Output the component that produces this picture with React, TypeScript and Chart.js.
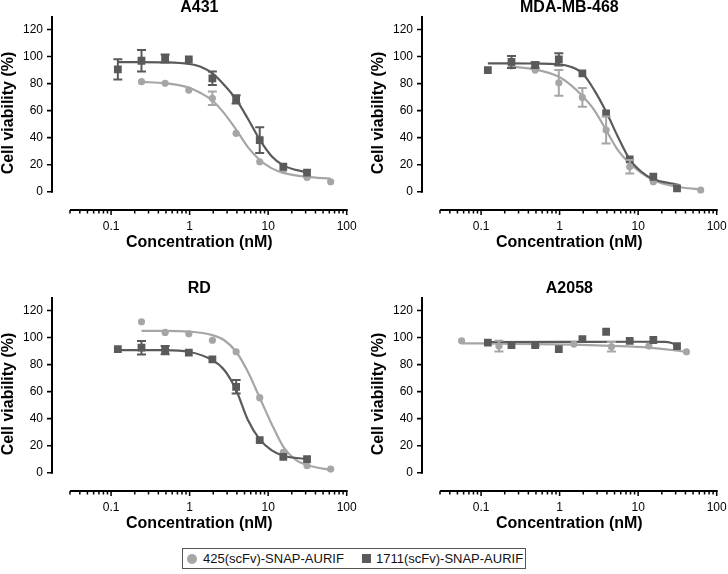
import React, { useEffect, useRef } from 'react';
import { Chart, registerables } from 'chart.js';

Chart.register(...registerables);

const LIGHT = '#a6a6a6';
const DARK = '#5a5a5a';
const FONT = "'Liberation Sans', Arial, Helvetica, sans-serif";

// ---- axis ticks ----
const X_TICKS = [0.1, 1, 10, 100];
const X_MINOR_TICKS = [
  0.03, 0.04, 0.05, 0.06, 0.07, 0.08, 0.09,
  0.2, 0.3, 0.4, 0.5, 0.6, 0.7, 0.8, 0.9,
  2, 3, 4, 5, 6, 7, 8, 9,
  20, 30, 40, 50, 60, 70, 80, 90,
];
const Y_TICKS = [0, 20, 40, 60, 80, 100, 120];
const X_MIN = 0.0177;
const X_MAX = 100;
const X_AXIS_START = 0.03;
const Y_MIN = -13.5;
const Y_MAX = 130;
const Y_AXIS_TOP = 130;

// ---- A431 ----
const a431LightConc = [0.244, 0.488, 0.977, 1.95, 3.91, 7.81, 15.6, 31.25, 62.5];
const a431LightVal = [81.4, 80.2, 75.2, 69.1, 43.2, 22.2, 16, 10.6, 7.4];
const a431LightErr = [0, 0, 0, 5, 0, 0, 0, 0, 0];
const a431DarkConc = [0.122, 0.244, 0.488, 0.977, 1.95, 3.91, 7.81, 15.6, 31.25];
const a431DarkVal = [90.5, 96.9, 98.6, 97.9, 83.9, 68.3, 38.2, 18.5, 14.1];
const a431DarkErr = [7.5, 8, 3, 0, 5, 3, 9.5, 0, 0];
const a431LightFitX = [0.244, 0.488, 0.977, 1.38, 1.95, 2.76, 3.91, 5.52, 7.81, 11.0, 15.6, 31.25, 62.5];
const a431LightFitY = [81.2, 80.3, 77, 73, 67.5, 58, 46, 33, 23.5, 17.5, 14, 11, 9.8];
const a431DarkFitX = [0.122, 0.244, 0.488, 0.977, 1.38, 1.95, 2.76, 3.91, 5.52, 7.81, 11.0, 15.6, 31.25];
const a431DarkFitY = [95.9, 95.9, 95.7, 94.5, 92.5, 87.6, 79, 68.3, 54, 38.5, 26.5, 19.5, 14.1];

// ---- MDA-MB-468 ----
const mdaLightConc = [0.244, 0.488, 0.977, 1.95, 3.91, 7.81, 15.6, 31.25, 62.5];
const mdaLightVal = [93, 90, 80.6, 69.8, 45.6, 18.5, 7.4, 3.7, 1.3];
const mdaLightErr = [0, 0, 9.5, 7, 10, 5, 0, 0, 0];
const mdaDarkConc = [0.122, 0.244, 0.488, 0.977, 1.95, 3.91, 7.81, 15.6, 31.25];
const mdaDarkVal = [90, 96, 93.7, 97.9, 87.6, 58, 24, 11.1, 2.5];
const mdaDarkErr = [0, 4.5, 2, 4.5, 0, 0, 0, 0, 0];
const mdaLightFitX = [0.244, 0.488, 0.977, 1.38, 1.95, 2.76, 3.91, 5.52, 7.81, 15.6, 31.25, 62.5];
const mdaLightFitY = [92.5, 90.5, 85, 79, 70.8, 60.4, 45.6, 30.8, 21, 8.7, 3.7, 1.8];
const mdaDarkFitX = [0.122, 0.244, 0.488, 0.977, 1.38, 1.95, 2.76, 3.91, 5.52, 7.81, 11.0, 15.6, 31.25];
const mdaDarkFitY = [95, 95, 94.8, 94.3, 92.5, 87.6, 75.2, 59.2, 40.7, 24, 14.8, 9.2, 5.5];

// ---- RD ----
const rdLightConc = [0.244, 0.488, 0.977, 1.95, 3.91, 7.81, 15.6, 31.25, 62.5];
const rdLightVal = [111.7, 103.8, 102.8, 98, 89.5, 55.5, 15, 5.2, 2.7];
const rdLightErr = [0, 0, 0, 0, 0, 0, 0, 0, 0];
const rdDarkConc = [0.122, 0.244, 0.488, 0.977, 1.95, 3.91, 7.81, 15.6, 31.25];
const rdDarkVal = [91.5, 92.5, 90.7, 88.8, 83.9, 63.6, 24.2, 11.8, 10.1];
const rdDarkErr = [0, 5, 3, 0, 0, 5, 0, 0, 0];
const rdLightFitX = [0.244, 0.488, 0.977, 1.95, 2.76, 3.91, 5.52, 7.81, 11.0, 15.6, 22.1, 31.25, 62.5];
const rdLightFitY = [105, 105, 104.5, 101.8, 98, 89.5, 74.7, 55.5, 36.5, 19.2, 9.9, 5.7, 2];
const rdDarkFitX = [0.122, 0.488, 0.977, 1.95, 2.76, 3.91, 5.52, 7.81, 11.0, 15.6, 31.25];
const rdDarkFitY = [90.7, 90.7, 89.5, 83.3, 76, 61.2, 39, 24.7, 16.8, 12.6, 10.1];

// ---- A2058 ----
const a2058LightConc = [0.0565, 0.169, 0.508, 1.52, 4.57, 13.7, 41.2];
const a2058LightVal = [97.6, 93.7, 94.5, 95.2, 93.2, 93.7, 89.5];
const a2058LightErr = [0, 4, 0, 0, 3.5, 0, 0];
const a2058DarkConc = [0.122, 0.244, 0.488, 0.977, 1.95, 3.91, 7.81, 15.6, 31.25];
const a2058DarkVal = [96.2, 94.5, 94.5, 91.5, 98.9, 104.3, 97.6, 98.2, 93.7];
const a2058DarkErr = [0, 0, 0, 0, 0, 0, 0, 0, 0];
const a2058LightFitX = [0.0565, 0.169, 0.508, 1.52, 4.57, 13.7, 41.2];
const a2058LightFitY = [95.7, 95.5, 95.2, 94.7, 93.9, 92.6, 89.5];
const a2058DarkFitX = [0.122, 1, 10, 22, 26, 29, 31.25];
const a2058DarkFitY = [96.7, 96.8, 96.9, 96.8, 96.2, 95, 93.7];

const LEGEND_LIGHT = '425(scFv)-SNAP-AURIF';
const LEGEND_DARK = '1711(scFv)-SNAP-AURIF';

type Spec = {
  title: string;
  lightConc: number[]; lightVal: number[]; lightErr: number[];
  darkConc: number[]; darkVal: number[]; darkErr: number[];
  lightFitX: number[]; lightFitY: number[];
  darkFitX: number[]; darkFitY: number[];
};

const PANELS: Spec[] = [
  { title: 'A431', lightConc: a431LightConc, lightVal: a431LightVal, lightErr: a431LightErr, darkConc: a431DarkConc, darkVal: a431DarkVal, darkErr: a431DarkErr, lightFitX: a431LightFitX, lightFitY: a431LightFitY, darkFitX: a431DarkFitX, darkFitY: a431DarkFitY },
  { title: 'MDA-MB-468', lightConc: mdaLightConc, lightVal: mdaLightVal, lightErr: mdaLightErr, darkConc: mdaDarkConc, darkVal: mdaDarkVal, darkErr: mdaDarkErr, lightFitX: mdaLightFitX, lightFitY: mdaLightFitY, darkFitX: mdaDarkFitX, darkFitY: mdaDarkFitY },
  { title: 'RD', lightConc: rdLightConc, lightVal: rdLightVal, lightErr: rdLightErr, darkConc: rdDarkConc, darkVal: rdDarkVal, darkErr: rdDarkErr, lightFitX: rdLightFitX, lightFitY: rdLightFitY, darkFitX: rdDarkFitX, darkFitY: rdDarkFitY },
  { title: 'A2058', lightConc: a2058LightConc, lightVal: a2058LightVal, lightErr: a2058LightErr, darkConc: a2058DarkConc, darkVal: a2058DarkVal, darkErr: a2058DarkErr, lightFitX: a2058LightFitX, lightFitY: a2058LightFitY, darkFitX: a2058DarkFitX, darkFitY: a2058DarkFitY },
];

const toXY = (xs: number[], ys: number[]) => xs.map((x, i) => ({ x, y: ys[i] }));

const axesPlugin = {
  id: 'prismAxes',
  afterDraw(chart: any) {
    const { ctx, chartArea, scales } = chart;
    const xs = scales.x;
    const ys = scales.y;
    ctx.save();
    ctx.strokeStyle = '#000';
    ctx.lineCap = 'butt';
    // y axis
    const ax = chartArea.left;
    ctx.lineWidth = 2;
    ctx.beginPath();
    ctx.moveTo(ax, ys.getPixelForValue(Y_AXIS_TOP));
    ctx.lineTo(ax, ys.getPixelForValue(0) + 1);
    ctx.stroke();
    ctx.lineWidth = 1.6;
    ctx.beginPath();
    for (const v of Y_TICKS) {
      const py = ys.getPixelForValue(v);
      ctx.moveTo(ax - 5, py);
      ctx.lineTo(ax, py);
    }
    ctx.stroke();
    // x axis
    const by = chartArea.bottom;
    ctx.lineWidth = 2;
    ctx.beginPath();
    ctx.moveTo(xs.getPixelForValue(X_AXIS_START), by);
    ctx.lineTo(xs.getPixelForValue(X_MAX) + 1, by);
    ctx.stroke();
    ctx.lineWidth = 1.5;
    ctx.beginPath();
    for (const v of X_MINOR_TICKS) {
      const px = xs.getPixelForValue(v);
      ctx.moveTo(px, by);
      ctx.lineTo(px, by + 3.5);
    }
    for (const v of X_TICKS) {
      const px = xs.getPixelForValue(v);
      ctx.moveTo(px, by);
      ctx.lineTo(px, by + 5);
    }
    ctx.stroke();
    ctx.restore();
  },
};

const errorBarPlugin = {
  id: 'errorBars',
  afterDatasetsDraw(chart: any) {
    const { ctx, scales } = chart;
    const xs = scales.x;
    const ys = scales.y;
    ctx.save();
    chart.data.datasets.forEach((ds: any) => {
      if (!ds.errorBars) return;
      ctx.strokeStyle = ds.backgroundColor;
      ctx.lineWidth = 2;
      ds.data.forEach((p: any, i: number) => {
        const e = ds.errorBars[i];
        if (!e) return;
        const px = xs.getPixelForValue(p.x);
        const t = ys.getPixelForValue(p.y + e);
        const b = ys.getPixelForValue(p.y - e);
        ctx.beginPath();
        ctx.moveTo(px, t);
        ctx.lineTo(px, b);
        ctx.moveTo(px - 4.5, t);
        ctx.lineTo(px + 4.5, t);
        ctx.moveTo(px - 4.5, b);
        ctx.lineTo(px + 4.5, b);
        ctx.stroke();
      });
    });
    ctx.restore();
  },
};

function Panel({ spec, width, height, left, top }: { spec: Spec; width: number; height: number; left: number; top: number }) {
  const ref = useRef<HTMLCanvasElement | null>(null);
  useEffect(() => {
    if (!ref.current) return;
    const chart = new Chart(ref.current, {
      type: 'scatter',
      data: {
        datasets: [
          {
            label: LEGEND_DARK,
            data: toXY(spec.darkConc, spec.darkVal),
            errorBars: spec.darkErr,
            pointStyle: 'rect',
            pointRadius: 5.5,
            backgroundColor: DARK,
            borderColor: DARK,
            borderWidth: 0,
            showLine: false,
          } as any,
          {
            label: LEGEND_LIGHT,
            data: toXY(spec.lightConc, spec.lightVal),
            errorBars: spec.lightErr,
            pointStyle: 'circle',
            pointRadius: 3.6,
            backgroundColor: LIGHT,
            borderColor: LIGHT,
            borderWidth: 0,
            showLine: false,
          } as any,
          {
            label: 'fit dark',
            data: toXY(spec.darkFitX, spec.darkFitY),
            showLine: true,
            pointRadius: 0,
            borderColor: DARK,
            backgroundColor: DARK,
            borderWidth: 2.2,
            cubicInterpolationMode: 'monotone',
          } as any,
          {
            label: 'fit light',
            data: toXY(spec.lightFitX, spec.lightFitY),
            showLine: true,
            pointRadius: 0,
            borderColor: LIGHT,
            backgroundColor: LIGHT,
            borderWidth: 2.2,
            cubicInterpolationMode: 'monotone',
          } as any,
        ],
      },
      options: {
        responsive: false,
        animation: false,
        events: [],
        layout: { autoPadding: false, padding: { left: 0, top: 0, right: width - 346.7, bottom: height - 254 } },
        plugins: {
          legend: { display: false },
          tooltip: { enabled: false },
          title: {
            display: true,
            text: spec.title,
            fullSize: false,
            color: '#000',
            font: { family: FONT, size: 16, weight: 'bold', lineHeight: 1 },
            padding: 0,
          },
        },
        scales: {
          x: {
            type: 'logarithmic',
            min: X_MIN,
            max: X_MAX,
            afterBuildTicks: (s: any) => { s.ticks = X_TICKS.map((v) => ({ value: v })); },
            afterFit: (s: any) => { s.height = 44; s.paddingLeft = 0; s.paddingRight = 0; },
            grid: { display: false, drawTicks: false },
            border: { display: false },
            ticks: {
              padding: 9,
              autoSkip: false,
              maxRotation: 0,
              color: '#000',
              font: { family: FONT, size: 12 },
              callback: (v: any) => String(v),
            },
            title: {
              display: true,
              text: 'Concentration (nM)',
              color: '#000',
              font: { family: FONT, size: 16, weight: 'bold', lineHeight: 1.2 },
              padding: { top: 0, bottom: 2 },
            },
          },
          y: {
            type: 'linear',
            min: Y_MIN,
            max: Y_MAX,
            afterBuildTicks: (s: any) => { s.ticks = Y_TICKS.map((v) => ({ value: v })); },
            afterFit: (s: any) => { s.width = 52; s.paddingTop = 0; s.paddingBottom = 0; },
            grid: { display: false, drawTicks: false },
            border: { display: false },
            ticks: {
              padding: 9,
              color: '#000',
              font: { family: FONT, size: 12 },
            },
            title: {
              display: true,
              text: 'Cell viability (%)',
              color: '#000',
              font: { family: FONT, size: 16, weight: 'bold', lineHeight: 1 },
              padding: { top: 0.5, bottom: 0 },
            },
          },
        },
      } as any,
      plugins: [axesPlugin, errorBarPlugin],
    });
    return () => chart.destroy();
  }, [spec, width, height]);
  return (
    <canvas
      ref={ref}
      width={width}
      height={height}
      style={{ position: 'absolute', left, top, width, height, display: 'block' }}
    />
  );
}

export default function App() {
  return (
    <div style={{ position: 'absolute', left: 0, top: 0, width: 728, height: 574, background: '#fff', overflow: 'hidden' }}>
      <Panel spec={PANELS[0]} left={0} top={0} width={364} height={262} />
      <Panel spec={PANELS[1]} left={370} top={0} width={358} height={262} />
      <Panel spec={PANELS[2]} left={0} top={281} width={364} height={262} />
      <Panel spec={PANELS[3]} left={370} top={281} width={358} height={262} />
      <div
        style={{
          position: 'absolute', left: 182, top: 548, width: 344, height: 21,
          border: '1px solid #555', boxSizing: 'border-box',
          fontFamily: FONT, fontSize: 13, color: '#111',
        }}
      >
        <span style={{ position: 'absolute', left: 4, top: 4.5, width: 10, height: 10, borderRadius: '50%', background: LIGHT }} />
        <span style={{ position: 'absolute', left: 20, top: 1, lineHeight: '17px', whiteSpace: 'nowrap' }}>{LEGEND_LIGHT}</span>
        <span style={{ position: 'absolute', left: 179, top: 5, width: 9, height: 9, background: DARK }} />
        <span style={{ position: 'absolute', left: 193, top: 1, lineHeight: '17px', whiteSpace: 'nowrap' }}>{LEGEND_DARK}</span>
      </div>
    </div>
  );
}
